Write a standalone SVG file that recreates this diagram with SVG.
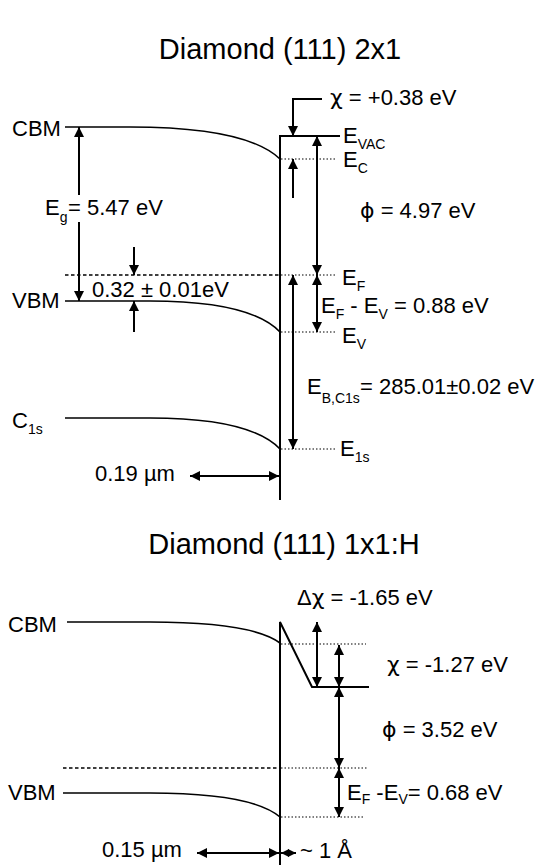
<svg xmlns="http://www.w3.org/2000/svg" width="544" height="865" viewBox="0 0 544 865">
<style>
text{font-family:"Liberation Sans",Arial,"DejaVu Sans",sans-serif;fill:#000}
.t{font-size:29px}
.l{font-size:22px}
.s{font-size:14px}
.g{font-family:"DejaVu Sans","Liberation Sans",sans-serif}
.band{fill:none;stroke:#000;stroke-width:1.6}
.surf{fill:none;stroke:#000;stroke-width:2}
.dot{stroke:#000;stroke-width:1.2;stroke-dasharray:1.5 2}
.dash{stroke:#000;stroke-width:1.4;stroke-dasharray:3.5 2.5}
.ar{fill:none;stroke:#000;stroke-width:2;marker-end:url(#ah)}
.ar2{fill:none;stroke:#000;stroke-width:2;marker-start:url(#ah);marker-end:url(#ah)}
.ar3{fill:none;stroke:#000;stroke-width:2;marker-start:url(#ahs);marker-end:url(#ahs)}
</style>
<defs>
<marker id="ah" viewBox="0 0 10 10" refX="10" refY="5" markerWidth="10" markerHeight="10" markerUnits="userSpaceOnUse" orient="auto-start-reverse"><path d="M0,0 L10,5 L0,10 z" fill="#000"/></marker>
<marker id="ahs" viewBox="0 0 10 10" refX="10" refY="5" markerWidth="8" markerHeight="9" markerUnits="userSpaceOnUse" orient="auto-start-reverse"><path d="M0,0 L10,5 L0,10 z" fill="#000"/></marker>
</defs>

<g id="top-panel">
<text id="title-2x1" class="t" x="280" y="59" text-anchor="middle">Diamond (111) 2x1</text>
<g id="top-surface"><path class="surf" d="M340,136 H280 V500"/></g>
<g id="top-cbm"><path class="band" d="M65,127 H130 C200,127 255,135 280,159"/><text class="l" x="12" y="136">CBM</text></g>
<g id="top-vbm"><path class="band" d="M65,301 H150 C210,301 258,309 280,332"/><text class="l" x="12" y="308">VBM</text></g>
<g id="top-c1s"><path class="band" d="M65,418 H150 C210,418 258,426 280,449"/><text class="l" x="12" y="428">C<tspan class="s" dy="6">1s</tspan></text></g>
<g id="top-levels">
<line class="dash" x1="65" y1="275" x2="280" y2="275"/>
<line class="dot" x1="281" y1="275" x2="337" y2="275"/>
<line class="dot" x1="281" y1="159" x2="337" y2="159"/>
<line class="dot" x1="281" y1="332" x2="337" y2="332"/>
<line class="dot" x1="281" y1="449" x2="337" y2="449"/>
<text class="l" x="343" y="143">E<tspan class="s" dy="6">VAC</tspan></text>
<text class="l" x="343" y="167">E<tspan class="s" dy="6">C</tspan></text>
<text class="l" x="342" y="285">E<tspan class="s" dy="6">F</tspan></text>
<text class="l" x="342" y="343">E<tspan class="s" dy="6">V</tspan></text>
<text class="l" x="340" y="456">E<tspan class="s" dy="6">1s</tspan></text>
</g>
<g id="top-labels">
<text class="l" x="45" y="215">E<tspan class="s" dy="7">g</tspan><tspan x="68" dy="-7">= 5.47 eV</tspan></text>
<text class="l" x="92" y="297">0.32 ± 0.01eV</text>
<text class="l" x="330" y="105"><tspan class="g">χ</tspan> = +0.38 eV</text>
<text class="l" x="360" y="218"><tspan class="g">ϕ</tspan> = 4.97 eV</text>
<text class="l" x="321" y="313">E<tspan class="s" dy="6">F</tspan><tspan dy="-6"> - E</tspan><tspan class="s" dy="6">V</tspan><tspan dy="-6"> = 0.88 eV</tspan></text>
<text class="l" x="307" y="394">E<tspan class="s" dy="9">B,C1s</tspan><tspan x="360" dy="-9">= 285.01±0.02 eV</tspan></text>
<text class="l" x="95" y="481">0.19 µm</text>
</g>
</g>

<g id="bottom-panel">
<text id="title-1x1H" class="t" x="284" y="554" text-anchor="middle">Diamond (111) 1x1:H</text>
<g id="bottom-surface"><path class="surf" d="M280,865 V622 L312,687 H369"/></g>
<g id="bottom-cbm"><path class="band" d="M67,622 H150 C215,622 260,628 280,643"/><text class="l" x="8" y="632">CBM</text></g>
<g id="bottom-vbm"><path class="band" d="M63,793 H150 C215,793 260,800 280,817"/><text class="l" x="8" y="800">VBM</text></g>
<g id="bottom-levels">
<line class="dash" x1="63" y1="768" x2="280" y2="768"/>
<line class="dot" x1="281" y1="768" x2="367" y2="768"/>
<line class="dot" x1="281" y1="644" x2="366" y2="644"/>
<line class="dot" x1="281" y1="817" x2="365" y2="817"/>
</g>
<g id="bottom-labels">
<text class="l" x="297" y="605">Δ<tspan class="g">χ</tspan> = -1.65 eV</text>
<text class="l" x="387" y="672"><tspan class="g">χ</tspan> = -1.27 eV</text>
<text class="l" x="382" y="737"><tspan class="g">ϕ</tspan> = 3.52 eV</text>
<text class="l" x="347" y="800">E<tspan class="s" dy="4">F</tspan><tspan dy="-4"> -E</tspan><tspan class="s" dy="4">V</tspan><tspan dy="-4">= 0.68 eV</tspan></text>
<text class="l" x="102" y="857">0.15 µm</text>
<text class="l" x="300" y="858">~ 1 Å</text>
</g>
</g>

<g id="connectors">
<line class="ar" x1="79" y1="195" x2="79" y2="127"/>
<line class="ar" x1="79" y1="222" x2="79" y2="301"/>
<line class="ar" x1="134" y1="247" x2="134" y2="275"/>
<line class="ar" x1="134" y1="332" x2="134" y2="301"/>
<polyline class="ar" points="322,99 293,99 293,136"/>
<line class="ar" x1="293" y1="198" x2="293" y2="159"/>
<line class="ar2" x1="317" y1="136" x2="317" y2="275"/>
<line class="ar2" x1="317" y1="275" x2="317" y2="332"/>
<line class="ar2" x1="293" y1="275" x2="293" y2="449"/>
<line class="ar2" x1="190" y1="476" x2="279" y2="476"/>
<line class="ar2" x1="317" y1="622" x2="317" y2="687"/>
<line class="ar2" x1="339" y1="645" x2="339" y2="687"/>
<line class="ar2" x1="339" y1="687" x2="339" y2="768"/>
<line class="ar2" x1="339" y1="768" x2="339" y2="817"/>
<line class="ar2" x1="197" y1="853" x2="279" y2="853"/>
<line class="ar3" x1="281" y1="853" x2="296" y2="853"/>
</g>
</svg>
